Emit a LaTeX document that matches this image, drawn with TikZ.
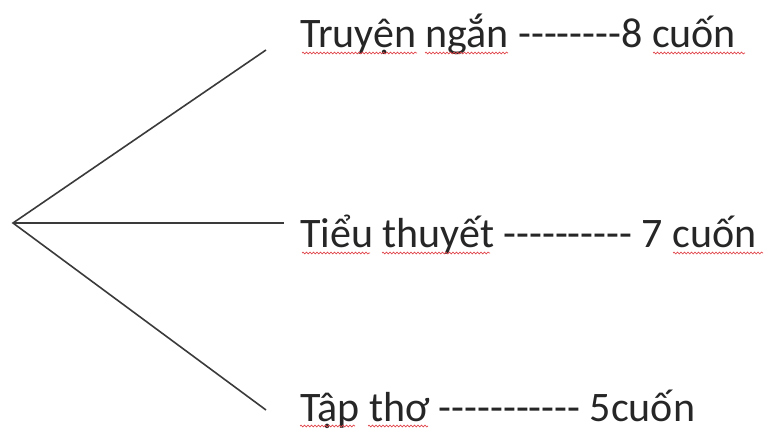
\documentclass[tikz,border=0pt]{standalone}
\usepackage{fontspec}
\newfontfamily\calfont{Carlito}
\usetikzlibrary{decorations.pathmorphing}
\definecolor{inkgray}{HTML}{262626}
\definecolor{linegray}{HTML}{3A3A3A}
\definecolor{spellred}{HTML}{E0474C}
\tikzset{
  branch/.style={draw=linegray, line width=1.6pt},
  label/.style={anchor=base west, inner sep=0pt, font=\calfont\fontsize{42}{50}\selectfont, text=inkgray},
  squiggle/.style={draw=spellred, line width=0.7pt, decorate, decoration={snake, amplitude=0.9pt, segment length=3.5pt}}
}
\begin{document}
\begin{tikzpicture}[x=1pt,y=-1pt]
\useasboundingbox (0,0) rectangle (765,428);
\coordinate (apex) at (13,223);
\coordinate (e1) at (266,50);
\coordinate (e2) at (284,223);
\coordinate (e3) at (266,410);
\draw[branch] (e1) -- (apex) -- (e3);
\draw[branch] (apex) -- (e2);
\node[label] (t1) at (300,48) {Truyện ngắn --------8 cuốn};
\node[label] (t2) at (300,247) {Tiểu thuyết ---------- 7 cuốn};
\node[label] (t3) at (300,421) {Tập thơ ----------- 5cuốn};
\draw[squiggle] (302,53) -- (417,53);
\draw[squiggle] (425,53) -- (508,53);
\draw[squiggle] (653,53) -- (745,53);
\draw[squiggle] (302,253) -- (370,253);
\draw[squiggle] (382,253) -- (490,253);
\draw[squiggle] (673,253) -- (763,253);
\draw[squiggle] (300,426) -- (355,426);
\draw[squiggle] (368,426) -- (428,426);
\end{tikzpicture}
\end{document}
